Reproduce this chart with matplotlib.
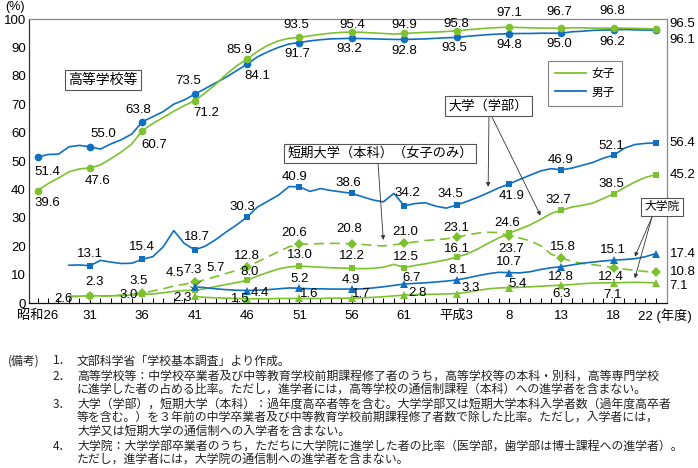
import matplotlib

matplotlib.use("Agg")
import matplotlib.pyplot as plt
from matplotlib.lines import Line2D

plt.rcParams["font.family"] = ["Liberation Sans", "Noto Sans CJK JP"]

GREEN = "#7cc22e"
BLUE = "#106fc0"

# ---- data ----
years_hs = list(range(1951, 2011))
years_univ = list(range(1954, 2011))
years_grad = list(range(1966, 2011))
marker_years = [1951, 1956, 1961, 1966, 1971, 1976, 1981, 1986, 1991, 1996, 2001, 2006, 2010]

hs_female = [39.6, 42.0, 44.0, 46.2, 47.2, 47.6, 48.6, 50.8, 53.2, 56.0,
             60.7, 63.2, 65.3, 67.5, 69.5, 71.2, 74.0, 77.0, 80.5, 83.5,
             85.9, 88.6, 90.8, 92.3, 93.2, 93.5, 94.1, 94.6, 95.0, 95.3,
             95.4, 95.3, 95.1, 94.9, 94.7, 94.9, 95.1, 95.3, 95.4, 95.6,
             95.8, 96.2, 96.5, 96.8, 97.0, 97.1, 97.0, 96.9, 96.8, 96.8,
             96.7, 96.9, 96.9, 96.8, 96.8, 96.8, 96.8, 96.7, 96.6, 96.5]
hs_male = [51.4, 52.3, 52.4, 55.0, 55.5, 55.0, 54.2, 56.0, 57.5, 59.5,
           63.8, 65.6, 67.4, 70.0, 71.5, 73.5, 75.5, 77.5, 79.5, 81.8,
           84.1, 86.7, 88.5, 90.0, 91.2, 91.7, 92.3, 92.7, 93.0, 93.1,
           93.2, 93.1, 93.0, 92.9, 92.8, 92.8, 92.9, 93.0, 93.2, 93.4,
           93.5, 93.9, 94.2, 94.5, 94.7, 94.8, 94.9, 94.9, 95.0, 95.0,
           95.0, 95.5, 95.7, 96.0, 96.1, 96.2, 96.3, 96.2, 96.1, 96.1]
univ_male = [13.3, 13.4,
             13.1, 15.0, 14.4, 13.9, 14.0, 15.4, 16.3, 19.8, 25.5, 21.0,
             18.7, 20.0, 22.3, 25.0, 27.5, 30.3, 33.8, 35.9, 38.0, 41.0,
             40.9, 39.3, 40.3, 39.6, 39.1, 38.6, 37.4, 36.3, 35.6, 38.6,
             34.2, 35.0, 35.3, 34.1, 33.4, 34.5, 35.8, 37.2, 38.8, 40.5,
             41.9, 43.5, 45.0, 46.5, 47.3, 46.9, 47.5, 48.5, 49.5, 51.0,
             52.1, 54.5, 55.8, 56.2, 56.4]
univ_female = [2.4, 2.4,
               2.6, 2.5, 2.5, 2.6, 2.8, 3.0, 3.2, 3.6, 4.1, 4.4,
               4.5, 5.0, 5.8, 6.5, 7.2, 8.0, 9.5, 10.8, 12.0, 12.7,
               13.0, 12.8, 12.6, 12.4, 12.3, 12.2, 12.1, 12.2, 12.6, 13.6,
               12.5, 13.2, 13.8, 14.5, 15.2, 16.1, 17.3, 19.0, 21.0, 22.9,
               24.6, 26.0, 27.5, 29.4, 31.5, 32.7, 33.8, 34.4, 35.2, 36.8,
               38.5, 40.6, 42.6, 44.2, 45.2]
junior_college = [2.2, 2.3,
                  2.3, 2.4, 2.6, 2.8, 3.1, 3.5, 4.2, 5.0, 6.0, 6.6,
                  7.3, 8.2, 9.3, 10.4, 11.5, 12.8, 14.5, 16.3, 18.1, 19.8,
                  20.6, 20.8, 20.9, 21.0, 21.0, 20.8, 20.6, 20.3, 20.1, 20.5,
                  21.0, 21.5, 22.0, 22.3, 22.6, 23.1, 24.0, 24.6, 24.9, 24.8,
                  23.7, 22.9, 21.9, 20.2, 17.2, 15.8, 14.7, 13.9, 13.5, 13.0,
                  12.4, 11.9, 11.5, 11.1, 10.8]
grad_male = [5.7, 5.4, 5.0, 4.7, 4.5, 4.4, 4.5, 4.7, 5.0, 5.3,
             5.2, 5.0, 5.0, 4.9, 4.9, 4.9, 5.0, 5.3, 5.7, 6.2,
             6.7, 6.9, 7.1, 7.4, 7.7, 8.1, 8.8, 9.6, 10.3, 10.8,
             10.7, 10.6, 11.0, 11.8, 12.4, 12.8, 13.4, 14.0, 14.4, 14.8,
             15.1, 15.3, 15.6, 16.3, 17.4]
grad_female = [2.3, 2.0, 1.8, 1.7, 1.6, 1.5, 1.5, 1.5, 1.6, 1.6,
               1.6, 1.6, 1.6, 1.7, 1.7, 1.7, 1.8, 2.0, 2.2, 2.5,
               2.8, 2.9, 3.0, 3.1, 3.2, 3.3, 3.8, 4.4, 5.0, 5.3,
               5.4, 5.5, 5.7, 5.9, 6.1, 6.3, 6.5, 6.8, 7.0, 7.1,
               7.1, 7.2, 7.3, 7.2, 7.1]

x_tick_years = marker_years
x_tick_labels = ["昭和26", "31", "36", "41", "46", "51", "56", "61", "平成3", "8", "13", "18", ""]

# label offsets in pixels (dx, dy up) for each marker, "L" = leader line label
hs_female_off = [(10, -12), (8, -13), (12, -14), (12, -12), (-8, 9), (-3, 12), (0, 7),
                 (0, 8), (0, 7), (0, 14), (-2, 16), (-2, 17), (14, 5)]
hs_male_off = [(10, -15), (13, 13), (-4, 12), (-7, 13), (10, -12), (-2, -11), (-3, -11),
               (0, -12), (-2, -11), (0, -11), (-2, -11), (-2, -12), (14, -10)]
univ_male_off = [(0, 12), (0, 12), (2, 13), (-5, 10), (-5, 10), (-4, 10), (3, 13),
                 (-6, 11), (3, -12), (-1, 10), (-3, 9), (14, 0)]
univ_female_off = [(-26, -3), (-14, -1), ("L", -20, 17), (2, 8), (0, 11), (0, 12), (2, 11),
                   (0, 8), (-2, 10), (-3, 10), (-3, 10), (14, 0)]
junior_off = [(5, 14), (-4, 12), (-2, 12), (0, 11), (-5, 11), (-3, 15), (1, 11),
              (0, 9), (2, -13), (1, 11), (-3, -9), (14, 0)]
grad_male_off = [("L", 21, 19), (13, -2), (0, 9), (-1, 9), (7, 6), (1, 10), (0, 11),
                 (-1, -10), (-1, 10), (14, 0)]
grad_female_off = [(-12, -2), (-7, 0), (10, 4), (9, 4), (13, 2), (14, 6), (9, 4),
                   (0, -9), (-1, -12), (14, -3)]

fig = plt.figure(figsize=(6.98, 4.68), dpi=100)
ax = fig.add_axes([28.7 / 698, 1 - 303 / 468, 638 / 698, 284 / 468])
ax.set_xlim(1950.16, 2011.04)
ax.set_ylim(0, 100)


def draw(years, values, color, marker, ms, offsets, ls="-", dashes=None):
    kw = dict(color=color, lw=1.2, zorder=3)
    line, = ax.plot(years, values, ls, **kw)
    if dashes:
        line.set_dashes(dashes)
    lookup = dict(zip(years, values))
    myears = [y for y in marker_years if y in lookup]
    mvals = [lookup[y] for y in myears]
    ax.plot(myears, mvals, ls="none", marker=marker, ms=ms, color=color,
            markeredgewidth=0, zorder=4)
    for yr, v, off in zip(myears, mvals, offsets):
        txt = f"{v:.1f}"
        if off[0] == "L":
            ax.annotate(txt, (yr, v), xytext=(off[1], off[2]), textcoords="offset pixels",
                        ha="center", va="center", fontsize=9.5, zorder=6,
                        arrowprops=dict(arrowstyle="-", lw=0.5, color="#333",
                                        shrinkA=5, shrinkB=1))
        else:
            ha = "left" if yr == 2010 else "center"
            ax.annotate(txt, (yr, v), xytext=off, textcoords="offset pixels",
                        ha=ha, va="center", fontsize=9.5, zorder=6,
                        annotation_clip=False)


draw(years_hs, hs_male, BLUE, "o", 5.5, hs_male_off)
draw(years_hs, hs_female, GREEN, "o", 5.5, hs_female_off)
draw(years_univ, univ_male, BLUE, "s", 5, univ_male_off)
draw(years_univ, univ_female, GREEN, "s", 5, univ_female_off)
draw(years_univ, junior_college, GREEN, "D", 5, junior_off, ls="--", dashes=(6, 3.5))
draw(years_grad, grad_male, BLUE, "^", 5.5, grad_male_off)
draw(years_grad, grad_female, GREEN, "^", 5.5, grad_female_off)

# axes styling
for side in ("top", "right"):
    ax.spines[side].set_color("#8a8a8a")
    ax.spines[side].set_linewidth(0.9)
ax.spines["left"].set_color("#333333")
ax.spines["bottom"].set_color("#111111")
ax.spines["left"].set_linewidth(0.9)
ax.spines["bottom"].set_linewidth(0.9)

ax.set_yticks(range(0, 101, 10))
ax.tick_params(axis="y", length=0, pad=2, labelsize=9.5)
ax.set_xticks(x_tick_years, x_tick_labels)
ax.set_xticks(range(1951, 2011), minor=True)
ax.tick_params(axis="x", which="both", direction="in", length=3.5, width=0.7,
               pad=5, labelsize=9.5)
ax.annotate("22 (年度)", xy=(2010, 0), xycoords=("data", "axes fraction"),
            xytext=(-18, -13), textcoords="offset pixels", ha="left", va="center",
            fontsize=9.5, annotation_clip=False)
fig.text(14.5 / 698, 1 - 7 / 468, "(%)", ha="center", va="center", fontsize=9)

# legend
handles = [Line2D([], [], color=GREEN, lw=1.3), Line2D([], [], color=BLUE, lw=1.3)]
leg = ax.legend(handles, ["女子", "男子"], loc="upper left",
                bbox_to_anchor=((548 - 28.7) / 638, (303 - 61) / 284),
                borderaxespad=0, fontsize=8.5, frameon=True, fancybox=False,
                handlelength=2.6, handletextpad=0.5, labelspacing=0.55,
                borderpad=0.6)
leg.get_frame().set_edgecolor("#666666")
leg.get_frame().set_linewidth(0.8)

box = dict(boxstyle="square,pad=0.25", fc="white", ec="#555555", lw=0.8)


def px(x, y):
    return (1951 + (x - 37.5) / 10.48, (303 - y) / 2.84)


ax.text(*px(103, 80), "高等学校等", ha="center", va="center", fontsize=10, bbox=box, zorder=7)
ax.text(*px(488.5, 106), "大学（学部）", ha="center", va="center", fontsize=9.5, bbox=box, zorder=7)
ax.text(*px(380, 153.5), "短期大学（本科）（女子のみ）", ha="center", va="center", fontsize=9.5,
        bbox=box, zorder=7)
ax.text(*px(662, 207), "大学院", ha="center", va="center", fontsize=8.5, bbox=box, zorder=7)

arrow = dict(arrowstyle="-|>", lw=0.6, color="#333333", mutation_scale=6, shrinkA=0, shrinkB=0)
lookups = {
    "univ_male": dict(zip(years_univ, univ_male)),
    "univ_female": dict(zip(years_univ, univ_female)),
    "junior": dict(zip(years_univ, junior_college)),
    "grad_male": dict(zip(years_grad, grad_male)),
    "grad_female": dict(zip(years_grad, grad_female)),
}


def pointer(start_px, series, year, lift_px):
    v = lookups[series][year]
    ax.annotate("", xy=(year, v + lift_px / 2.84), xytext=px(*start_px),
                arrowprops=arrow, zorder=5)


pointer((489, 115), "univ_male", 1994, 6)
pointer((491, 115), "univ_female", 1999, 4)
pointer((378, 163), "junior", 1984, 6)
pointer((652, 217), "grad_male", 2008, 2)
pointer((652, 217), "grad_female", 2008, 4)

# notes
notes = [
    (8, "(備考)"),
    (53, "1．"), (77, "文部科学省「学校基本調査」より作成。"),
    (53, "2．"), (77, "高等学校等：中学校卒業者及び中等教育学校前期課程修了者のうち，高等学校等の本科・別科，高等専門学校"),
    (77, "に進学した者の占める比率。ただし，進学者には，高等学校の通信制課程（本科）への進学者を含まない。"),
    (53, "3．"), (77, "大学（学部），短期大学（本科）：過年度高卒者等を含む。大学学部又は短期大学本科入学者数（過年度高卒者"),
    (77, "等を含む。）を３年前の中学卒業者及び中等教育学校前期課程修了者数で除した比率。ただし，入学者には，"),
    (77, "大学又は短期大学の通信制への入学者を含まない。"),
    (53, "4．"), (77, "大学院：大学学部卒業者のうち，ただちに大学院に進学した者の比率（医学部，歯学部は博士課程への進学者）。"),
    (77, "ただし，進学者には，大学院の通信制への進学者を含まない。"),
]
note_y = [361, 361, 361, 376, 376, 389, 404, 404, 417, 431, 446, 446, 459]
for (x, line), y in zip(notes, note_y):
    fig.text(x / 698, 1 - y / 468, line, ha="left", va="center", fontsize=8.6,
             family="Noto Sans CJK JP", color="#222222")

fig.savefig("out.png", dpi=100)
